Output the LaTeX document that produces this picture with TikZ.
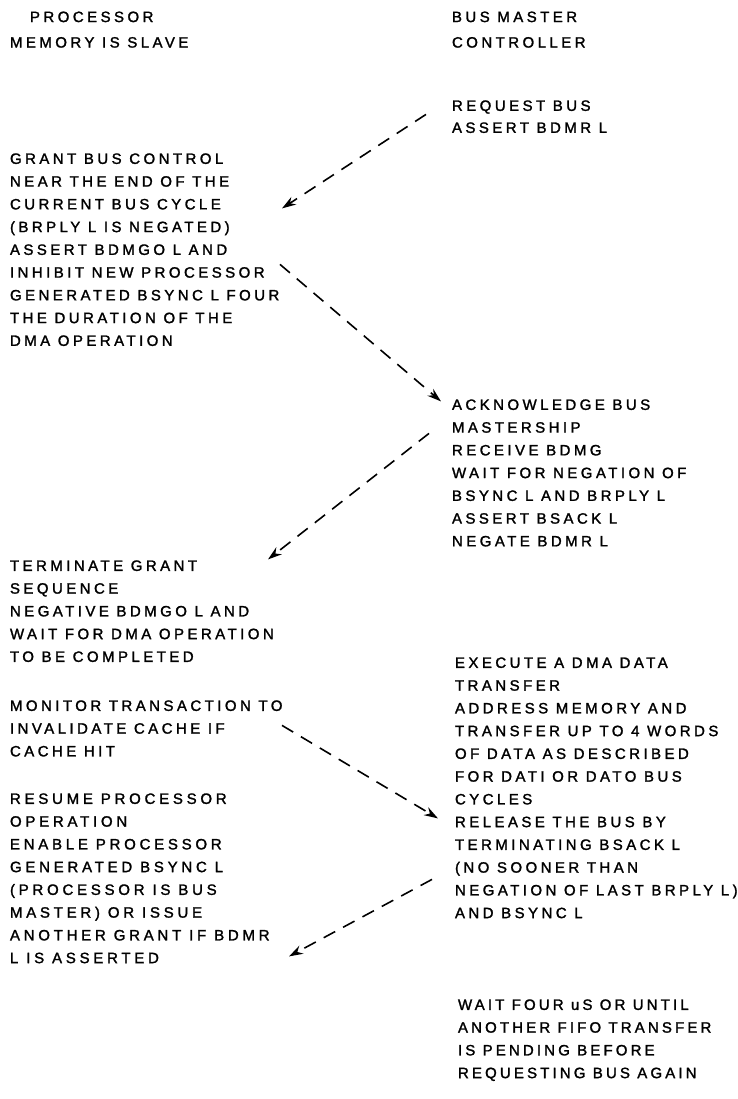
\documentclass[tikz,border=0pt]{standalone}
\usepackage{fontspec}
\setmainfont{Liberation Sans}
\newfontfamily\blkfont[LetterSpace=23,FakeBold=1.6]{Liberation Sans}
\newfontfamily\blkwide[LetterSpace=25,FakeBold=1.6]{Liberation Sans}
\newfontfamily\blknarrow[LetterSpace=21,FakeBold=1.6]{Liberation Sans}
\usetikzlibrary{arrows.meta}
\begin{document}
\begin{tikzpicture}[x=1pt,y=-1pt,
  blk/.style={anchor=north west, inner sep=0pt, outer sep=0pt, align=left,
    font=\blkfont\fontsize{15}{22.75}\selectfont},
  flow/.style={line width=1.6pt, dash pattern=on 13pt off 9pt,
    -{Stealth[length=14pt,width=9pt]}}]
\useasboundingbox (0,0) rectangle (737,1099);
\fill[white] (0,0) rectangle (737,1099);

\node[blk, font=\blkfont\fontsize{15}{25.5}\selectfont] (hdrL) at (10,11.6)
  {\hspace*{20pt}PROCESSOR\\MEMORY IS SLAVE};
\node[blk, font=\blkfont\fontsize{15}{25.5}\selectfont] (hdrR) at (452,11.6)
  {BUS MASTER\\CONTROLLER};
\node[blk, font=\blkfont\fontsize{15}{22}\selectfont] (req) at (452,100.4)
  {REQUEST BUS\\ASSERT BDMR L};
\node[blk] (grant) at (10,153.4)
  {GRANT BUS CONTROL\\NEAR THE END OF THE\\CURRENT BUS CYCLE\\(BRPLY L IS NEGATED)\\ASSERT BDMGO L AND\\INHIBIT NEW PROCESSOR\\GENERATED BSYNC L FOUR\\THE DURATION OF THE\\DMA OPERATION};
\node[blk] (ack) at (452,399.4)
  {ACKNOWLEDGE BUS\\MASTERSHIP\\RECEIVE BDMG\\WAIT FOR NEGATION OF\\BSYNC L AND BRPLY L\\ASSERT BSACK L\\NEGATE BDMR L};
\node[blk] (term) at (10,560.4)
  {TERMINATE GRANT\\SEQUENCE\\NEGATIVE BDMGO L AND\\WAIT FOR DMA OPERATION\\TO BE COMPLETED};
\node[blk] (mon) at (10,700.4)
  {MONITOR TRANSACTION TO\\INVALIDATE CACHE IF\\CACHE HIT};
\node[blk] (exec) at (455,657.4)
  {EXECUTE A DMA DATA\\TRANSFER\\ADDRESS MEMORY AND\\TRANSFER UP TO 4 WORDS\\OF DATA AS DESCRIBED\\FOR DATI OR DATO BUS\\CYCLES\\RELEASE THE BUS BY\\TERMINATING BSACK L\\(NO SOONER THAN\\NEGATION OF LAST BRPLY L)\\AND BSYNC L};
\node[blk, font=\blkwide\fontsize{15}{22.75}\selectfont] (resume) at (10,793.4)
  {RESUME PROCESSOR\\OPERATION\\ENABLE PROCESSOR\\GENERATED BSYNC L\\(PROCESSOR IS BUS\\MASTER) OR ISSUE\\ANOTHER GRANT IF BDMR\\L IS ASSERTED};
\node[blk, font=\blknarrow\fontsize{15}{22.75}\selectfont] (wait) at (458,999.4)
  {WAIT FOUR uS OR UNTIL\\ANOTHER FIFO TRANSFER\\IS PENDING BEFORE\\REQUESTING BUS AGAIN};

\draw[flow] ([shift={(-26,14)}]req.north west) -- ([shift={(272,55)}]grant.north west);
\draw[flow] ([shift={(270,111)}]grant.north west) -- ([shift={(-11,2)}]ack.north west);
\draw[flow] ([shift={(-23,34)}]ack.north west) -- ([shift={(258,-1)}]term.north west);
\draw[flow] ([shift={(272,25)}]mon.north west) -- ([shift={(-17,161)}]exec.north west);
\draw[flow] ([shift={(-23,222)}]exec.north west) -- ([shift={(279,163)}]resume.north west);
\end{tikzpicture}
\end{document}
